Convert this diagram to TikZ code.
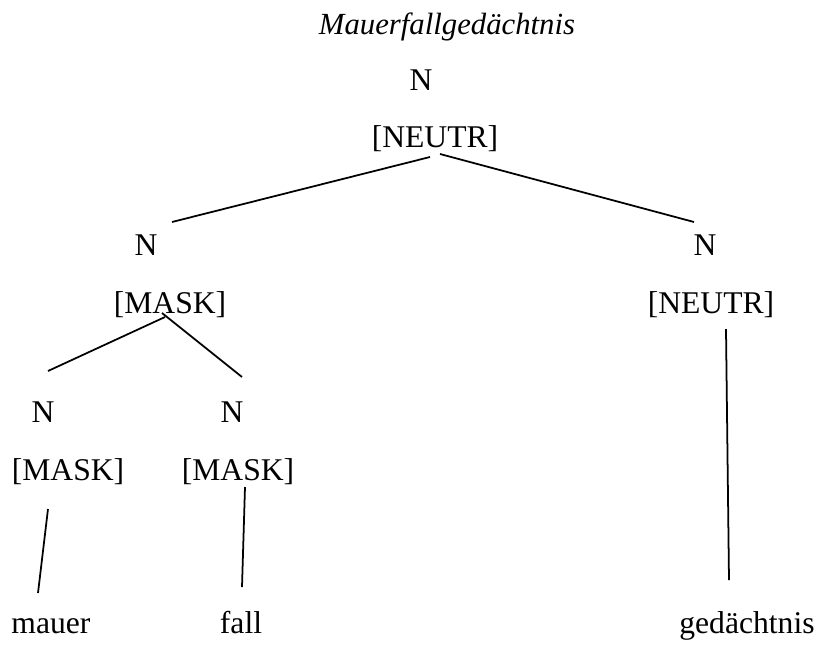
\documentclass[tikz,border=0pt]{standalone}
\usepackage{fontspec}
\setmainfont{Liberation Serif}
\usepackage{tikz}

\begin{document}
\begin{tikzpicture}[x=0.02cm, y=-0.02cm, line width=1pt,
    lab/.style={anchor=base, inner sep=0pt, font=\fontsize{18}{21}\selectfont}]
  \useasboundingbox (0,0) rectangle (819,650);
  % title and root
  \node[lab, font=\fontsize{17.5}{21}\selectfont\itshape] (title) at (447,34) {Mauerfallgedächtnis};
  \node[lab] (n0) at (421,90) {N};
  \node[lab] (g0) at (435,147) {[NEUTR]};
  % second level
  \node[lab] (n1) at (146,255) {N};
  \node[lab] (g1) at (170,313) {[MASK]};
  \node[lab] (n2) at (705,255) {N};
  \node[lab] (g2) at (711,313) {[NEUTR]};
  % third level
  \node[lab] (n3) at (43,422) {N};
  \node[lab] (g3) at (68,480) {[MASK]};
  \node[lab] (n4) at (232,422) {N};
  \node[lab] (g4) at (238,480) {[MASK]};
  % words
  \node[lab] (w1) at (51,633) {mauer};
  \node[lab] (w2) at (241,633) {fall};
  \node[lab] (w3) at (747,633) {gedächtnis};
  % line ends
  \coordinate (g0l) at (430,157);
  \coordinate (g0r) at (440,154);
  \coordinate (n1t) at (172,222);
  \coordinate (n2t) at (694,222);
  \coordinate (g1l) at (165,317);
  \coordinate (g1r) at (162,313);
  \coordinate (n3t) at (48,371);
  \coordinate (n4t) at (242,377);
  \coordinate (g2b) at (726,329);
  \coordinate (w3t) at (729,580);
  \coordinate (g3b) at (48,509);
  \coordinate (w1t) at (38,593);
  \coordinate (g4b) at (245,487);
  \coordinate (w2t) at (242,587);
  \draw (g0l) -- (n1t);
  \draw (g0r) -- (n2t);
  \draw (g1l) -- (n3t);
  \draw (g1r) -- (n4t);
  \draw (g2b) -- (w3t);
  \draw (g3b) -- (w1t);
  \draw (g4b) -- (w2t);
\end{tikzpicture}
\end{document}
